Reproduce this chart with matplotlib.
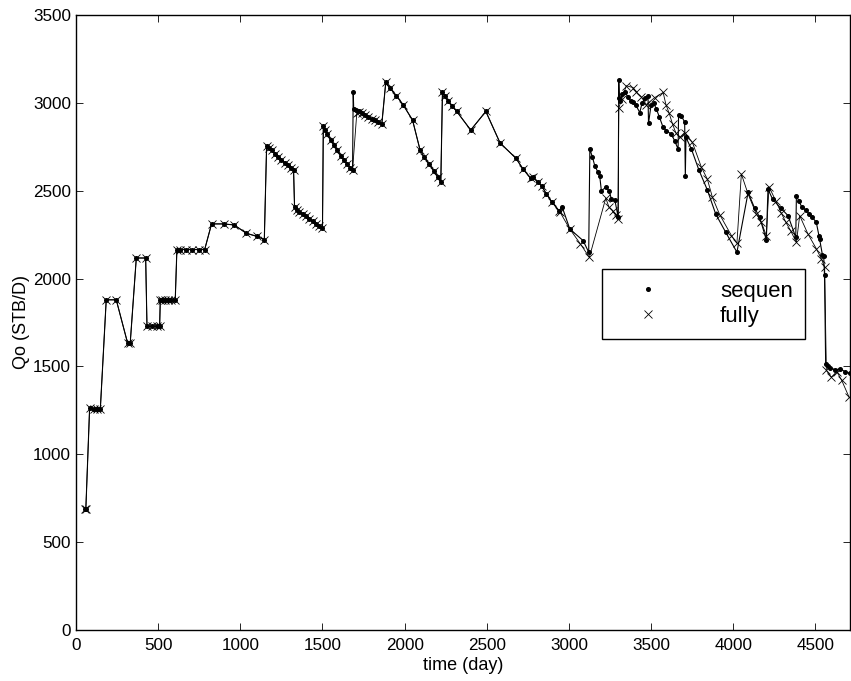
import numpy as np
import matplotlib.pyplot as plt
from matplotlib.lines import Line2D

plt.rcParams['font.family'] = ['Liberation Sans', 'DejaVu Sans']

# shared early history (both runs agree)
day_a = [52, 60, 83, 110, 130, 148, 184, 245, 314, 330, 367, 424, 432, 460, 493, 509,
         513, 525, 540, 560, 580, 604, 614, 635, 669, 708, 746, 783, 825, 898, 963,
         1036, 1101, 1146, 1160, 1175, 1190, 1210, 1230, 1250, 1270, 1290, 1310, 1324,
         1330, 1345, 1360, 1380, 1400, 1420, 1440, 1460, 1480, 1500,
         1505, 1515, 1530, 1550, 1570, 1590, 1610, 1630, 1650, 1670, 1683]
qo_a = [691, 691, 1265, 1260, 1258, 1256, 1879, 1879, 1633, 1633, 2117, 2117, 1729, 1729, 1729, 1729,
        1879, 1879, 1879, 1879, 1879, 1879, 2165, 2165, 2165, 2165, 2165, 2165, 2311, 2311, 2305,
        2258, 2240, 2222, 2755, 2745, 2730, 2710, 2690, 2675, 2660, 2645, 2630, 2620,
        2405, 2390, 2380, 2370, 2355, 2340, 2325, 2310, 2298, 2286,
        2866, 2845, 2820, 2790, 2760, 2730, 2700, 2675, 2650, 2630, 2617]

seq_b_day = [1687, 1690, 1705, 1720, 1740, 1760, 1780, 1800, 1820, 1840, 1861]
seq_b_qo = [3064, 2964, 2958, 2952, 2942, 2932, 2920, 2910, 2900, 2890, 2879]
full_b_day = [1709, 1720, 1740, 1760, 1780, 1800, 1820, 1840, 1861]
full_b_qo = [2945, 2950, 2940, 2930, 2920, 2910, 2900, 2890, 2879]

day_c = [1885, 1910, 1950, 1990, 2048, 2094, 2120, 2150, 2180, 2200, 2220, 2230, 2245, 2265,
         2290, 2317, 2402, 2494, 2581, 2676, 2721, 2767, 2782, 2810, 2833, 2863, 2897, 2940]
qo_c = [3116, 3085, 3040, 2990, 2902, 2731, 2690, 2650, 2610, 2580, 2547, 3059, 3040, 3010,
        2980, 2951, 2845, 2951, 2771, 2686, 2623, 2570, 2576, 2550, 2528, 2481, 2434, 2386]

# later history, the two runs diverge
seq_d_day = [2958, 3005, 3086, 3120, 3127, 3143, 3157, 3177, 3187, 3197, 3224, 3244, 3258, 3279, 3299,
             3303, 3306, 3312, 3325, 3339, 3360, 3375, 3390, 3405, 3431, 3445, 3465, 3481, 3484,
             3500, 3515, 3532, 3550, 3573, 3593, 3623, 3643, 3664, 3667, 3684, 3704, 3708, 3712,
             3745, 3791, 3842, 3893, 3954, 4022, 4090, 4130, 4160, 4201, 4211, 4240, 4290, 4333,
             4380, 4384, 4400, 4415, 4440, 4460, 4480, 4505, 4521, 4525, 4542, 4550, 4555, 4562,
             4575, 4590, 4620, 4651, 4680, 4710]
seq_d_qo = [2409, 2282, 2216, 2150, 2737, 2690, 2642, 2604, 2585, 2500, 2519, 2500, 2453, 2447, 2352,
            3129, 3030, 3011, 3050, 3059, 3035, 3010, 3002, 2990, 2945, 3000, 3030, 3040, 2883,
            2990, 3000, 2964, 2920, 2860, 2841, 2822, 2784, 2737, 2932, 2926, 2890, 2585, 2803,
            2737, 2617, 2504, 2367, 2263, 2150, 2490, 2400, 2350, 2220, 2509, 2450, 2400, 2358,
            2235, 2472, 2440, 2410, 2390, 2370, 2350, 2320, 2244, 2226, 2136, 2131, 2020, 1515,
            1500, 1490, 1480, 1487, 1470, 1460]

full_d_day = [2946, 3005, 3068, 3124, 3224, 3244, 3265, 3285, 3299, 3303, 3320, 3349, 3390, 3410,
              3440, 3470, 3522, 3573, 3590, 3610, 3630, 3650, 3674, 3704, 3751, 3806, 3842, 3873,
              3917, 3989, 4022, 4049, 4090, 4140, 4171, 4201, 4217, 4258, 4293, 4320, 4350, 4384,
              4404, 4453, 4505, 4535, 4556, 4566, 4597, 4630, 4660, 4704]
full_d_qo = [2377, 2282, 2199, 2121, 2458, 2405, 2386, 2360, 2339, 2970, 3020, 3097, 3087, 3060,
             3035, 2990, 3030, 3059, 2990, 2940, 2880, 2830, 2803, 2831, 2775, 2633, 2566, 2462,
             2364, 2244, 2201, 2595, 2481, 2367, 2320, 2244, 2523, 2443, 2371, 2320, 2270, 2206,
             2358, 2256, 2170, 2114, 2064, 1477, 1439, 1470, 1420, 1326]

seq_day = np.array(day_a + seq_b_day + day_c + seq_d_day)
seq_qo = np.array(qo_a + seq_b_qo + qo_c + seq_d_qo)
full_day = np.array(day_a + full_b_day + day_c + full_d_day)
full_qo = np.array(qo_a + full_b_qo + qo_c + full_d_qo)

fig = plt.figure(figsize=(8.51, 6.81), dpi=100)
ax = fig.add_axes([0.0893, 0.0749, 0.9095, 0.9031])

ax.plot(seq_day, seq_qo, color='k', lw=0.8, marker='o', ms=2.6, mfc='k', mec='k')
ax.plot(full_day, full_qo, color='k', lw=0.6, marker='x', ms=5.5, mew=0.6)

ax.set_xlim(0, 4710)
ax.set_ylim(0, 3500)
ax.set_xticks(np.arange(0, 4501, 500))
ax.set_yticks(np.arange(0, 3501, 500))
ax.tick_params(direction='in', top=True, right=True, labelsize=12.3, length=5, width=0.6)
ax.tick_params(axis='x', pad=6)
for s in ax.spines.values():
    s.set_linewidth(1.0)

ax.set_xlabel('time (day)', fontsize=13, labelpad=3)
ax.set_ylabel('Qo (STB/D)', fontsize=13, labelpad=2)

handles = [Line2D([], [], color='k', marker='o', ms=2.6, linestyle='none'),
           Line2D([], [], color='k', marker='x', ms=5.5, mew=0.6, linestyle='none')]
leg = ax.legend(handles, ['sequen', 'fully'], loc='upper left', bbox_to_anchor=(0.679, 0.587),
                borderaxespad=0, fontsize=16, borderpad=0.55, handlelength=3.1,
                handletextpad=1.68, labelspacing=0.15, fancybox=False, framealpha=1)
leg.get_frame().set_edgecolor('k')
leg.get_frame().set_linewidth(1.0)

fig.savefig('out.png', dpi=100)
